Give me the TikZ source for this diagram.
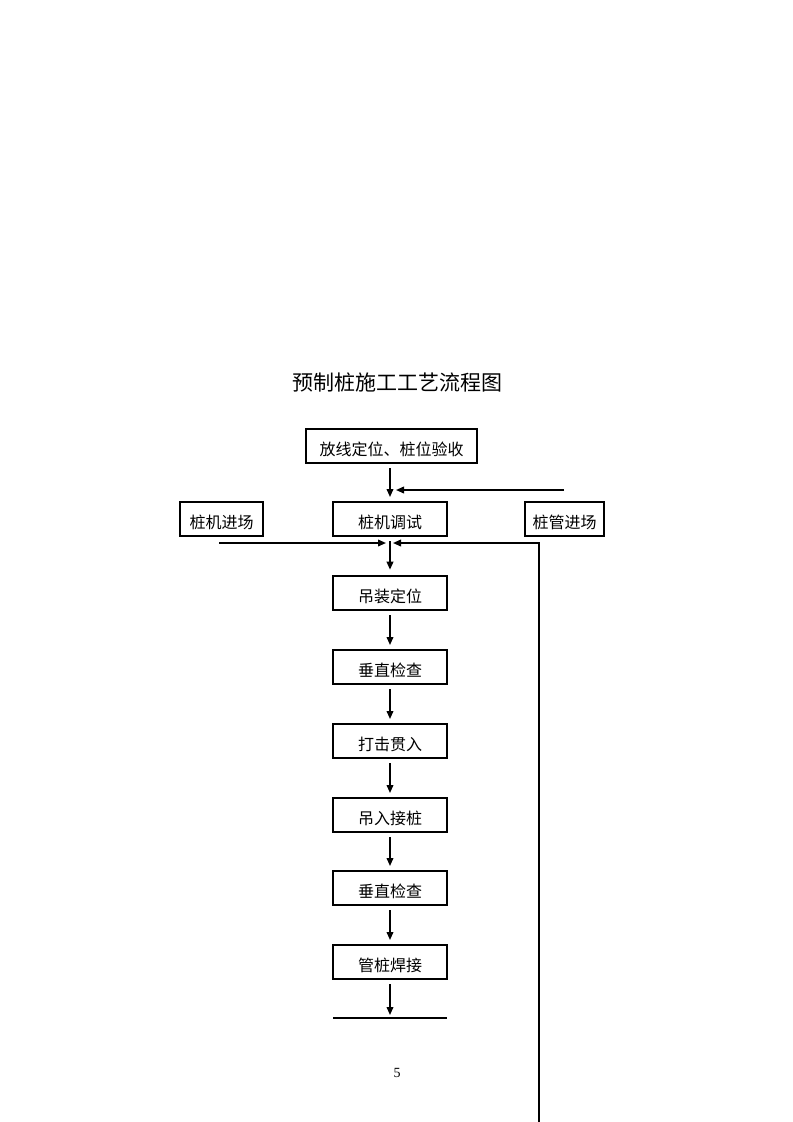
\documentclass[tikz,border=0pt]{standalone}
\usepackage{fontspec}
\usepackage{tikz}
\usetikzlibrary{arrows.meta}
\newfontfamily\cjk{Noto Sans CJK SC}
\setmainfont{Liberation Serif}

\begin{document}
\begin{tikzpicture}[x=0.75pt,y=-0.75pt]
\tikzstyle{box}=[draw,line width=1.5pt,minimum width=85.5pt,minimum height=25.5pt,inner sep=0pt,text height=14pt,text depth=0pt,font=\cjk\fontsize{12}{12}\selectfont]
\tikzstyle{arr}=[line width=1.2pt,-{Triangle[length=6pt,width=5pt]}]
\tikzstyle{ln}=[line width=1.2pt]
\useasboundingbox (0,0) rectangle (793,1122);
\node[font=\cjk\fontsize{15.75}{16}\selectfont] (title) at (397,382) {预制桩施工工艺流程图};
\node[box,minimum width=128.25pt] (fx) at (391.5,446) {放线定位、桩位验收};
\node[box,minimum width=62.25pt] (zjjc) at (221.5,519) {桩机进场};
\node[box] (zjts) at (390,519) {桩机调试};
\node[box,minimum width=59.25pt] (zgjc) at (564.5,519) {桩管进场};
\node[box] (dzdw) at (390,593) {吊装定位};
\node[box] (czjc1) at (390,667) {垂直检查};
\node[box] (djgr) at (390,741) {打击贯入};
\node[box] (drjz) at (390,815) {吊入接桩};
\node[box] (czjc2) at (390,888) {垂直检查};
\node[box] (gzhj) at (390,962) {管桩焊接};
\coordinate (gin) at (564,490);
\coordinate (gout) at (396,490);
\coordinate (jin) at (219,543);
\coordinate (jl) at (386,543);
\coordinate (jr) at (393,543);
\coordinate (jm) at (390,543);
\coordinate (lb) at (539,1122);
\coordinate (lt) at (539,543);
\coordinate (el) at (333,1018);
\coordinate (er) at (447,1018);
\draw[arr,shorten <=3pt,shorten >=3pt] (fx.south -| zjts.north) -- (zjts.north);
\draw[arr] (gin) -- (gout);
\draw[arr] (jin) -- (jl);
\draw[arr] (lb) -- (lt) -- (jr);
\draw[ln,shorten <=3pt] (zjts.south) -- (jm);
\draw[arr,shorten >=4pt] (jm) -- (dzdw.north);
\draw[arr,shorten <=3pt,shorten >=3pt] (dzdw) -- (czjc1);
\draw[arr,shorten <=3pt,shorten >=3pt] (czjc1) -- (djgr);
\draw[arr,shorten <=3pt,shorten >=3pt] (djgr) -- (drjz);
\draw[arr,shorten <=3pt,shorten >=3pt] (drjz) -- (czjc2);
\draw[arr,shorten <=3pt,shorten >=3pt] (czjc2) -- (gzhj);
\draw[arr,shorten <=3pt] (gzhj.south) -- (390,1015);
\draw[ln] (el) -- (er);
\node[font=\fontsize{10.5}{11}\selectfont] (pg) at (397,1073) {5};
\end{tikzpicture}
\end{document}
